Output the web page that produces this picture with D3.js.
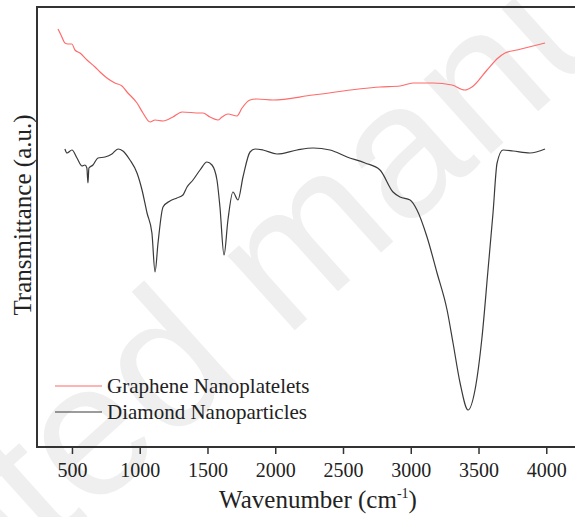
<!DOCTYPE html>
<html>
<head>
<meta charset="utf-8">
<script src="https://cdn.jsdelivr.net/npm/d3@7"></script>
<style>
  html, body { margin: 0; padding: 0; background: #fff; }
  svg { display: block; }
  text { font-family: "Liberation Serif", "Times New Roman", serif; fill: #222; }
</style>
</head>
<body>
<svg id="chart" width="575" height="517"></svg>
<script>
// FTIR spectra, transmittance in arbitrary units (offset for clarity)
const grapheneWavenumber = [397, 419, 448, 470, 500, 522, 559, 611, 670, 707, 758, 817, 869, 906, 980, 1024, 1076, 1113, 1172, 1245, 1312, 1445, 1467, 1518, 1577, 1607, 1651, 1718, 1755, 1814, 1865, 1983, 2279, 2773, 2921, 3017, 3164, 3304, 3400, 3452, 3563, 3644, 3696, 3784, 3991];
const grapheneTransmittance = [41.8, 41.2, 40.4, 40.3, 40.3, 39.7, 39.4, 38.7, 38.0, 37.5, 36.9, 36.4, 36.1, 35.5, 34.4, 33.4, 32.5, 32.7, 32.6, 33.0, 33.5, 33.4, 33.4, 33.0, 32.7, 33.0, 33.3, 33.1, 33.9, 34.7, 34.8, 34.7, 35.2, 36.0, 36.1, 36.4, 36.4, 36.2, 35.7, 36.0, 37.7, 38.9, 39.4, 39.7, 40.4];

const diamondWavenumber = [448, 463, 500, 537, 574, 596, 610, 618, 625, 655, 692, 744, 795, 840, 876, 928, 980, 1017, 1054, 1090, 1113, 1135, 1172, 1223, 1275, 1319, 1349, 1393, 1445, 1496, 1533, 1570, 1592, 1622, 1651, 1688, 1725, 1762, 1814, 1851, 1910, 2013, 2161, 2279, 2404, 2530, 2663, 2773, 2869, 2921, 2995, 3046, 3120, 3194, 3268, 3312, 3364, 3423, 3474, 3526, 3570, 3607, 3637, 3681, 3755, 3880, 3991];
const diamondTransmittance = [29.8, 29.4, 29.7, 28.9, 28.1, 28.2, 27.9, 26.4, 27.9, 28.2, 28.9, 29.0, 29.3, 29.8, 29.6, 28.7, 27.4, 25.7, 23.4, 21.4, 17.5, 20.4, 24.0, 24.6, 24.9, 25.2, 26.0, 26.7, 27.7, 28.5, 28.2, 26.7, 24.0, 19.2, 22.7, 25.5, 24.7, 27.0, 29.5, 29.8, 29.7, 29.3, 29.7, 29.9, 29.7, 29.0, 28.4, 27.7, 25.5, 25.0, 24.7, 23.7, 21.0, 17.4, 13.7, 10.4, 6.4, 3.7, 5.7, 11.0, 17.7, 23.4, 28.4, 29.7, 29.6, 29.4, 29.8];

const seriesNames = ["Graphene Nanoplatelets", "Diamond Nanoparticles"];
const seriesColors = ["#ff6b6b", "#3a3a3a"];
const xTicks = [500, 1000, 1500, 2000, 2500, 3000, 3500, 4000];

const svg = d3.select("#chart");
const plot = { left: 37, top: 7, right: 612, bottom: 447 };

// faint diagonal watermark behind the plot
const wmSize = 190;
const wm = svg.append("g").attr("transform", "translate(285,339) rotate(-42)");
wm.append("text").attr("text-anchor", "end").attr("x", -0.278 * wmSize)
  .style("font-family", "'Liberation Sans', Arial, sans-serif")
  .style("font-size", wmSize + "px").style("fill", "#efefef").text("Accepted");
wm.append("text").attr("text-anchor", "start").attr("x", 0)
  .style("font-family", "'Liberation Sans', Arial, sans-serif")
  .style("font-size", wmSize + "px").style("fill", "#efefef").text("manuscript");

const x = d3.scaleLinear().domain([242, 4485]).range([plot.left, plot.right]);
const y = d3.scaleLinear().domain([0, 44]).range([plot.bottom, plot.top]);

const line = d3.line().x(d => x(d[0])).y(d => y(d[1])).curve(d3.curveMonotoneX);

const series = [
  d3.zip(grapheneWavenumber, grapheneTransmittance),
  d3.zip(diamondWavenumber, diamondTransmittance)
];

series.forEach((s, i) => {
  svg.append("path").datum(s)
    .attr("d", line)
    .attr("fill", "none")
    .attr("stroke", seriesColors[i])
    .attr("stroke-width", 1.2)
    .attr("stroke-linejoin", "round");
});

// frame
svg.append("rect")
  .attr("x", plot.left).attr("y", plot.top)
  .attr("width", plot.right - plot.left).attr("height", plot.bottom - plot.top)
  .attr("fill", "none").attr("stroke", "#333").attr("stroke-width", 2);

// bottom axis
const xAxis = d3.axisBottom(x).tickValues(xTicks).tickSize(7).tickPadding(9).tickFormat(d3.format("d"));
const gx = svg.append("g").attr("transform", `translate(0,${plot.bottom})`).call(xAxis);
gx.select(".domain").remove();
gx.selectAll(".tick line").attr("stroke", "#333").attr("stroke-width", 1.5);
gx.selectAll(".tick text")
  .style("font-family", "'Liberation Serif', 'Times New Roman', serif")
  .style("font-size", "20px").attr("fill", "#222");

// axis titles
const xt = svg.append("text").attr("x", 318).attr("y", 508).attr("text-anchor", "middle")
  .style("font-size", "25px");
xt.append("tspan").text("Wavenumber (cm");
xt.append("tspan").attr("dy", -10).style("font-size", "14px").text("-1");
xt.append("tspan").attr("dy", 10).text(")");

svg.append("text")
  .attr("transform", "translate(31,215) rotate(-90)")
  .attr("text-anchor", "middle")
  .style("font-size", "25px")
  .text("Transmittance (a.u.)");

// legend
const legend = svg.append("g");
[386, 412].forEach((ly, i) => {
  legend.append("line").attr("x1", 55).attr("x2", 102).attr("y1", ly).attr("y2", ly)
    .attr("stroke", seriesColors[i]).attr("stroke-width", 1.2);
  legend.append("text").attr("x", 107).attr("y", ly + 7)
    .style("font-size", "21px").text(seriesNames[i]);
});
</script>
</body>
</html>
